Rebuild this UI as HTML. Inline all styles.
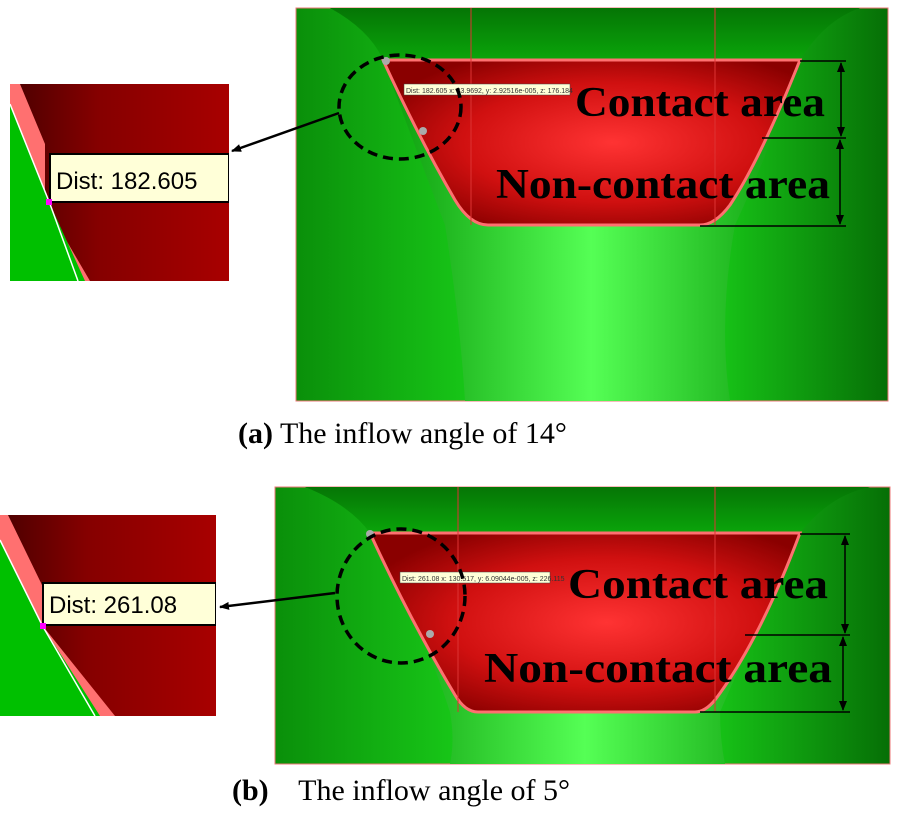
<!DOCTYPE html>
<html><head><meta charset="utf-8"><style>body{margin:0;background:#fff}svg{display:block}</style></head><body>
<svg width="898" height="816" viewBox="0 0 898 816" xmlns="http://www.w3.org/2000/svg">
<defs>
<linearGradient id="gbg" x1="0" x2="1"><stop offset="0" stop-color="#0a8f0a"/><stop offset="0.3" stop-color="#18c818"/><stop offset="0.7" stop-color="#18c818"/><stop offset="1" stop-color="#066f06"/></linearGradient>
<linearGradient id="gtop" x1="0" y1="0" x2="0" y2="1"><stop offset="0" stop-color="#057505"/><stop offset="1" stop-color="#0aa50a"/></linearGradient>
<linearGradient id="gneck" x1="0" x2="1"><stop offset="0" stop-color="#0b9a0b"/><stop offset="0.5" stop-color="#55ff55"/><stop offset="1" stop-color="#0b9a0b"/></linearGradient>
<radialGradient id="gred" cx="0.55" cy="0.5" r="0.6"><stop offset="0" stop-color="#ff3333"/><stop offset="0.6" stop-color="#d01010"/><stop offset="1" stop-color="#8a0000"/></radialGradient>
<linearGradient id="ired" x1="0" x2="1"><stop offset="0" stop-color="#4a0000"/><stop offset="0.4" stop-color="#850000"/><stop offset="1" stop-color="#a80000"/></linearGradient>
<marker id="ah" markerWidth="10" markerHeight="8" refX="9" refY="4" orient="auto-start-reverse" markerUnits="userSpaceOnUse" viewBox="0 0 10 8"><path d="M0,0 L10,4 L0,8 Z" fill="#000"/></marker>
</defs>

<!-- Panel A -->
<rect x="296" y="8" width="592" height="393" fill="url(#gbg)" stroke="#e77" stroke-width="1"/>
<path d="M330,8 Q370,30 383,60 L800,60 Q825,20 860,8 Z" fill="url(#gtop)"/>
<path d="M383,60 Q420,160 445,225 Q460,320 465,401 L730,401 Q718,320 735,225 Q770,150 800,60 Z" fill="url(#gneck)"/>
<path d="M383,60 L800,60 Q760,160 730,205 Q715,225 700,225 L488,225 Q470,225 455,200 Q420,140 383,60 Z" fill="url(#gred)" stroke="#ff7070" stroke-width="3"/>
<line x1="471" y1="8" x2="471" y2="225" stroke="#d33" stroke-width="1"/>
<line x1="715" y1="8" x2="715" y2="225" stroke="#d33" stroke-width="1"/>
<rect x="404" y="84" width="166" height="11" fill="#ffffd8" stroke="#444" stroke-width="0.5"/>
<text x="406" y="93" font-family="Liberation Sans, sans-serif" font-size="7" fill="#333">Dist: 182.605 x: 83.9692, y: 2.92516e-005, z: 176.184</text>
<circle cx="386" cy="61" r="4" fill="#aaa"/><circle cx="423" cy="131" r="4" fill="#aaa"/>
<ellipse cx="400" cy="107" rx="61" ry="52" fill="none" stroke="#000" stroke-width="3.5" stroke-dasharray="10,6"/>
<line x1="339" y1="113" x2="232" y2="151" stroke="#000" stroke-width="2.5" marker-end="url(#ah)"/>
<g stroke="#000" stroke-width="1.5"><line x1="800" y1="61" x2="846" y2="61"/><line x1="762" y1="138" x2="846" y2="138"/><line x1="700" y1="226" x2="846" y2="226"/>
<line x1="841" y1="63" x2="841" y2="136" marker-start="url(#ah)" marker-end="url(#ah)"/><line x1="840" y1="140" x2="840" y2="224" marker-start="url(#ah)" marker-end="url(#ah)"/></g>
<g font-family="Liberation Serif, serif" font-weight="bold" font-size="42" fill="#000">
<text x="575" y="116" textLength="250" lengthAdjust="spacingAndGlyphs">Contact area</text><text x="496" y="198" textLength="334" lengthAdjust="spacingAndGlyphs">Non-contact area</text></g>
<text x="238" y="443" font-family="Liberation Serif, serif" font-size="30" fill="#000"><tspan font-weight="bold">(a)</tspan> The inflow angle of 14°</text>

<!-- Inset A -->
<svg x="10" y="84" width="219" height="197" viewBox="0 0 219 197">
<rect width="219" height="197" fill="url(#ired)"/>
<path d="M0,0 L10,0 L35,60 L35,120 L80,197 L0,197 Z" fill="#ff7070"/>
<path d="M0,20 L40,120 L75,197 L0,197 Z" fill="#00c000"/>
<path d="M0,20 L40,120 L68,197" fill="none" stroke="#fff" stroke-width="1.5"/>
<rect x="40" y="70" width="179" height="48" fill="#ffffd8" stroke="#000" stroke-width="2"/>
<text x="46" y="105" font-family="Liberation Sans, sans-serif" font-size="24" fill="#000">Dist: 182.605</text>
<rect x="36" y="115" width="6" height="6" fill="#f0f"/>
</svg>

<!-- Panel B -->
<rect x="275" y="487" width="615" height="277" fill="url(#gbg)" stroke="#e77" stroke-width="1"/>
<path d="M305,487 Q350,505 370,533 L800,533 Q830,495 870,487 Z" fill="url(#gtop)"/>
<path d="M370,533 Q420,620 450,712 Q455,740 450,764 L725,764 Q720,740 720,712 Q760,620 800,533 Z" fill="url(#gneck)"/>
<path d="M370,533 L800,533 Q760,640 715,700 Q705,712 695,712 L478,712 Q465,712 455,695 Q410,620 370,533 Z" fill="url(#gred)" stroke="#ff7070" stroke-width="3"/>
<line x1="458" y1="487" x2="458" y2="712" stroke="#d33" stroke-width="1"/>
<line x1="715" y1="487" x2="715" y2="712" stroke="#d33" stroke-width="1"/>
<rect x="400" y="572" width="150" height="11" fill="#ffffd8" stroke="#444" stroke-width="0.5"/>
<text x="402" y="581" font-family="Liberation Sans, sans-serif" font-size="7" fill="#333">Dist: 261.08 x: 130.517, y: 6.09044e-005, z: 226.115</text>
<circle cx="370" cy="534" r="4" fill="#aaa"/><circle cx="430" cy="634" r="4" fill="#aaa"/>
<ellipse cx="401" cy="596" rx="64" ry="67" fill="none" stroke="#000" stroke-width="3.5" stroke-dasharray="10,6"/>
<line x1="335" y1="593" x2="220" y2="607" stroke="#000" stroke-width="2.5" marker-end="url(#ah)"/>
<g stroke="#000" stroke-width="1.5"><line x1="800" y1="534" x2="850" y2="534"/><line x1="745" y1="635" x2="850" y2="635"/><line x1="700" y1="712" x2="850" y2="712"/>
<line x1="845" y1="536" x2="845" y2="633" marker-start="url(#ah)" marker-end="url(#ah)"/><line x1="843" y1="637" x2="843" y2="710" marker-start="url(#ah)" marker-end="url(#ah)"/></g>
<g font-family="Liberation Serif, serif" font-weight="bold" font-size="42" fill="#000">
<text x="568" y="598" textLength="260" lengthAdjust="spacingAndGlyphs">Contact area</text><text x="484" y="682" textLength="348" lengthAdjust="spacingAndGlyphs">Non-contact area</text></g>
<text x="232" y="800" font-family="Liberation Serif, serif" font-size="30" fill="#000" xml:space="preserve"><tspan font-weight="bold">(b)</tspan>    The inflow angle of 5°</text>

<!-- Inset B -->
<svg x="0" y="515" width="216" height="201" viewBox="0 0 216 201">
<rect width="216" height="201" fill="url(#ired)"/>
<path d="M0,0 L8,0 L42,70 L42,110 L115,201 L0,201 Z" fill="#ff7070"/>
<path d="M0,25 L42,110 L100,201 L0,201 Z" fill="#00c000"/>
<path d="M0,25 L42,110 L95,201" fill="none" stroke="#fff" stroke-width="1.5"/>
<rect x="43" y="68" width="173" height="42" fill="#ffffd8" stroke="#000" stroke-width="2"/>
<text x="49" y="98" font-family="Liberation Sans, sans-serif" font-size="24" fill="#000">Dist: 261.08</text>
<rect x="40" y="108" width="6" height="6" fill="#f0f"/>
</svg>
</svg>
</body></html>
